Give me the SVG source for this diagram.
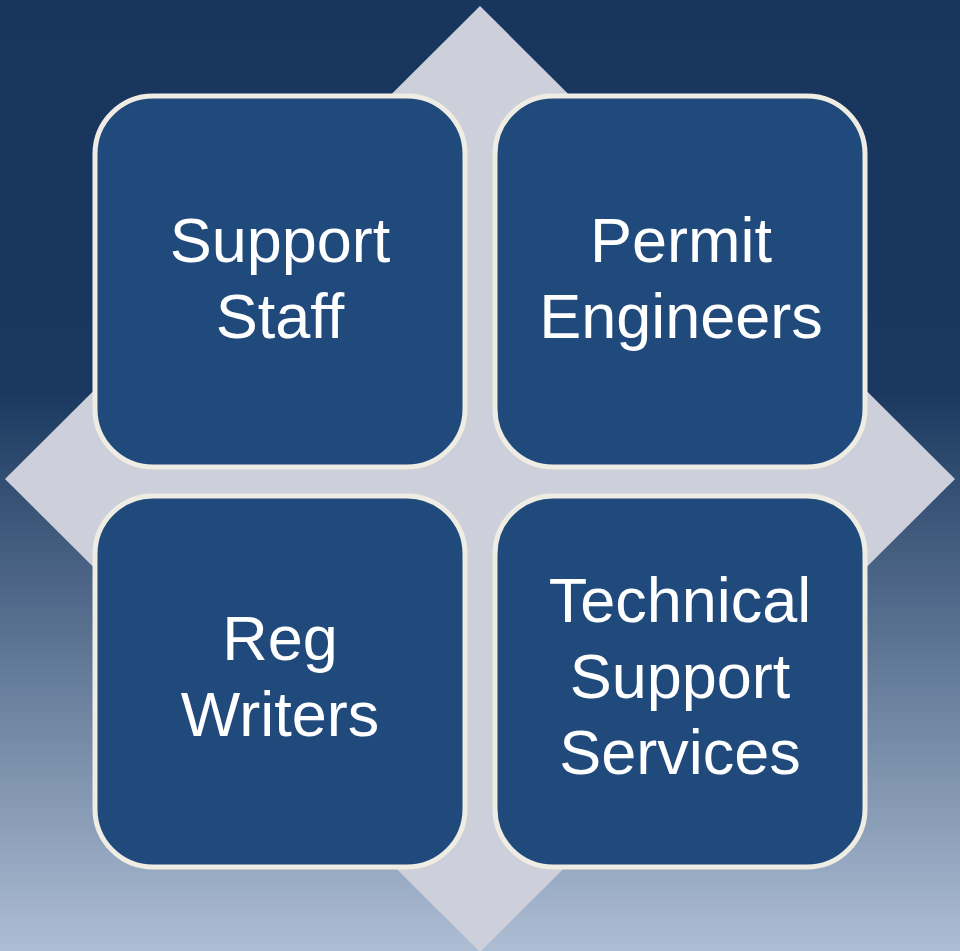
<svg xmlns="http://www.w3.org/2000/svg" width="960" height="951" viewBox="0 0 960 951">
  <defs>
    <linearGradient id="bg" x1="0" y1="0" x2="0" y2="951" gradientUnits="userSpaceOnUse">
      <stop offset="0" stop-color="#18365d"/>
      <stop offset="0.41" stop-color="#1a385f"/>
      <stop offset="1" stop-color="#adbdd3"/>
    </linearGradient>
    <style>
      .box { fill: #204a7c; stroke: #eeece3; stroke-width: 5; }
      .lbl { font-family: "Liberation Sans", Arial, sans-serif; font-size: 63px; fill: #ffffff; text-anchor: middle; }
    </style>
  </defs>
  <rect x="0" y="0" width="960" height="951" fill="url(#bg)"/>
  <polygon points="480,6 955,479 480,952 5,479" fill="#cdd0da"/>
  <g id="node-support-staff">
    <rect class="box" x="95" y="96" width="370" height="371" rx="58" ry="58"/>
    <text class="lbl" x="280" y="262">Support</text>
    <text class="lbl" x="280" y="338">Staff</text>
  </g>
  <g id="node-permit-engineers">
    <rect class="box" x="495" y="96" width="370" height="371" rx="58" ry="58"/>
    <text class="lbl" x="681" y="262">Permit</text>
    <text class="lbl" x="681" y="338">Engineers</text>
  </g>
  <g id="node-reg-writers">
    <rect class="box" x="95" y="496" width="370" height="371" rx="58" ry="58"/>
    <text class="lbl" x="280" y="660">Reg</text>
    <text class="lbl" x="280" y="736">Writers</text>
  </g>
  <g id="node-technical-support-services">
    <rect class="box" x="495" y="496" width="370" height="371" rx="58" ry="58"/>
    <text class="lbl" x="680" y="622">Technical</text>
    <text class="lbl" x="680" y="698">Support</text>
    <text class="lbl" x="680" y="774">Services</text>
  </g>
  <g id="connectors"></g>
</svg>
